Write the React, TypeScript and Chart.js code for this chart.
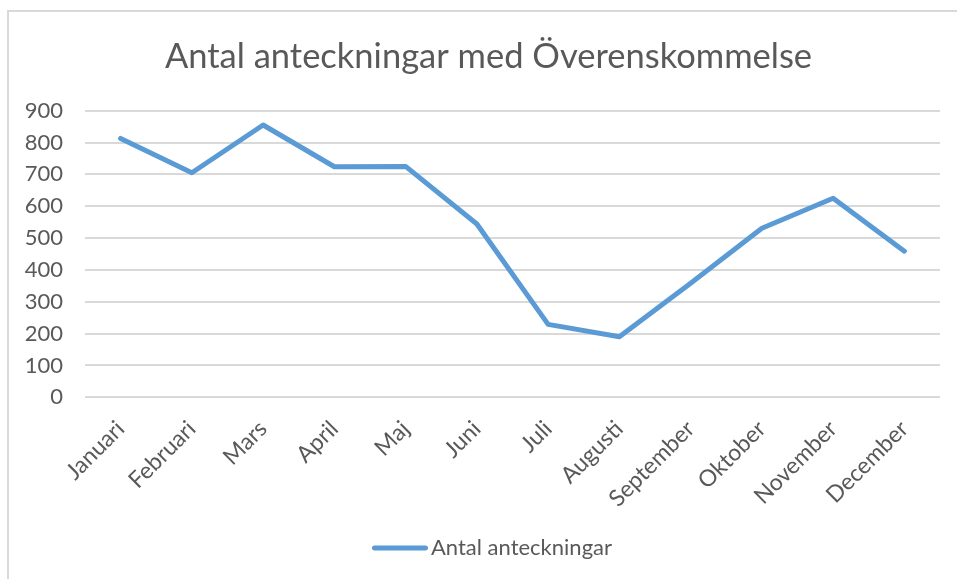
import React, { useEffect, useRef } from "react";
import { Chart, registerables } from "chart.js";

Chart.register(...registerables);

const months = [
  "Januari",
  "Februari",
  "Mars",
  "April",
  "Maj",
  "Juni",
  "Juli",
  "Augusti",
  "September",
  "Oktober",
  "November",
  "December",
];
const counts = [813, 705, 855, 724, 725, 544, 229, 190, 358, 531, 625, 459];
const yMin = 0;
const yMax = 900;
const yStep = 100;
const seriesName = "Antal anteckningar";
const chartTitle = "Antal anteckningar med Överenskommelse";

const FONT = "Lato, 'Open Sans', sans-serif";
const TEXT = "#595959";
const LINE = "#5B9BD5";
const GRID = "#d9d9d9";

const headerLegendPlugin = {
  id: "headerLegend",
  afterDraw(chart: any) {
    const ctx = chart.ctx as CanvasRenderingContext2D;
    const ds = chart.data.datasets[0];
    ctx.save();
    // title
    ctx.font = `34.5px ${FONT}`;
    ctx.fillStyle = TEXT;
    ctx.textAlign = "center";
    ctx.textBaseline = "middle";
    ctx.fillText(chartTitle, 488.5, 57);
    // legend
    const fontSize = 22;
    ctx.font = `${fontSize}px ${FONT}`;
    const textW = ctx.measureText(ds.label).width;
    const lineLen = 56;
    const gap = 3;
    const total = lineLen + gap + textW;
    const cx = 492;
    const cy = 548;
    const left = cx - total / 2;
    ctx.strokeStyle = ds.borderColor;
    ctx.lineWidth = 5;
    ctx.lineCap = "round";
    ctx.beginPath();
    ctx.moveTo(left + 2.5, cy);
    ctx.lineTo(left + lineLen - 2.5, cy);
    ctx.stroke();
    ctx.fillStyle = TEXT;
    ctx.textAlign = "left";
    ctx.fillText(ds.label, left + lineLen + gap, cy);
    ctx.restore();
  },
};

export default function App() {
  const ref = useRef<HTMLCanvasElement | null>(null);

  useEffect(() => {
    if (!ref.current) return;
    const chart = new Chart(ref.current, {
      type: "line",
      data: {
        labels: months,
        datasets: [
          {
            label: seriesName,
            data: counts,
            borderColor: LINE,
            backgroundColor: LINE,
            borderWidth: 5,
            pointRadius: 0,
            pointHoverRadius: 0,
            borderCapStyle: "round",
            borderJoinStyle: "round",
            tension: 0,
            fill: false,
          },
        ],
      },
      options: {
        responsive: false,
        animation: false,
        events: [],
        layout: { padding: { left: 10, right: 17, top: 110.7, bottom: 71.7 } },
        plugins: {
          title: { display: false },
          legend: { display: false },
          tooltip: { enabled: false },
        },
        scales: {
          x: {
            offset: true,
            grid: { display: false, drawTicks: false },
            border: { display: false },
            ticks: {
              color: TEXT,
              font: { family: FONT, size: 23 },
              minRotation: 45,
              maxRotation: 45,
              autoSkip: false,
              padding: 18,
            },
            afterFit: (s: any) => {
              s.height = 110;
            },
          },
          y: {
            min: yMin,
            max: yMax,
            ticks: {
              stepSize: yStep,
              color: TEXT,
              font: { family: FONT, size: 22 },
              padding: 22,
            },
            grid: { color: GRID, lineWidth: 2, drawTicks: false },
            border: { display: false },
            afterFit: (s: any) => {
              s.width = 75;
            },
          },
        },
      },
      plugins: [headerLegendPlugin],
    });
    return () => chart.destroy();
  }, []);

  return (
    <div
      style={{
        position: "absolute",
        left: 0,
        top: 0,
        width: 957,
        height: 579,
        overflow: "hidden",
        background: "#fff",
      }}
    >
      <div
        style={{
          position: "absolute",
          left: 7,
          top: 10,
          width: 1000,
          height: 1000,
          border: "2px solid #d9d9d9",
        }}
      />
      <canvas
        ref={ref}
        width={957}
        height={579}
        style={{ position: "absolute", left: 0, top: 0, display: "block" }}
      />
    </div>
  );
}
